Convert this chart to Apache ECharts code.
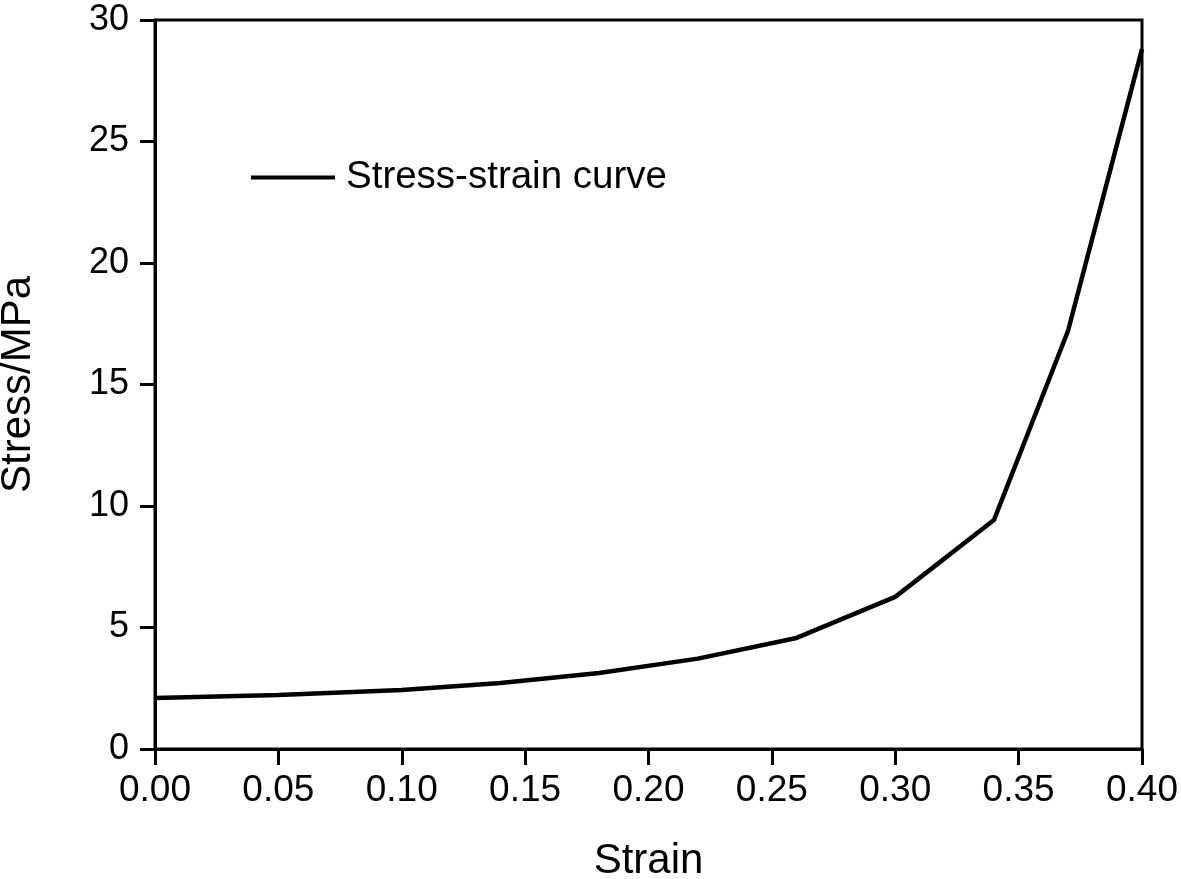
<!DOCTYPE html>
<html>
<head>
<meta charset="utf-8">
<script src="https://cdn.jsdelivr.net/npm/echarts@6/dist/echarts.min.js"></script>
<style>
html,body{margin:0;padding:0;background:#fff;}
#chart{width:1181px;height:879px;}
</style>
</head>
<body>
<div id="chart"></div>
<script>
const strain = [0, 0.05, 0.10, 0.14, 0.18, 0.22, 0.26, 0.30, 0.34, 0.37, 0.40];
const stress = [2.1, 2.22, 2.43, 2.72, 3.13, 3.72, 4.57, 6.26, 9.42, 17.2, 28.8];
const seriesName = 'Stress-strain curve';
const xAxisName = 'Strain';
const yAxisName = 'Stress/MPa';

const FONT = '"Liberation Sans", Arial, sans-serif';
const chart = echarts.init(document.getElementById('chart'), null, {renderer: 'canvas'});
chart.setOption({
  backgroundColor: '#fff',
  animation: false,
  textStyle: {fontFamily: FONT, color: '#000'},
  grid: {left: 155, right: 39, top: 20, bottom: 130, show: true, borderColor: '#000', borderWidth: 3, containLabel: false, outerBoundsMode: 'none'},
  legend: {
    left: 246, top: 153,
    icon: 'rect', itemWidth: 84, itemHeight: 4,
    textStyle: {fontFamily: FONT, fontSize: 38.5, color: '#000', padding: [0, 0, 0, 6]},
    data: [seriesName]
  },
  xAxis: {
    type: 'value', min: 0, max: 0.4, interval: 0.05,
    name: xAxisName, nameLocation: 'middle', nameGap: 91,
    nameTextStyle: {fontFamily: FONT, fontSize: 42, color: '#000'},
    axisLine: {show: true, lineStyle: {color: '#000', width: 3}},
    axisTick: {show: true, inside: false, length: 16, lineStyle: {color: '#000', width: 3}},
    axisLabel: {fontFamily: FONT, fontSize: 37, color: '#000', margin: 23, formatter: v => v.toFixed(2)},
    splitLine: {show: false}
  },
  yAxis: {
    type: 'value', min: 0, max: 30, interval: 5,
    name: yAxisName, nameLocation: 'middle', nameGap: 116,
    nameTextStyle: {fontFamily: FONT, fontSize: 42, color: '#000'},
    axisLine: {show: true, lineStyle: {color: '#000', width: 3}},
    axisTick: {show: true, inside: false, length: 15, lineStyle: {color: '#000', width: 3}},
    axisLabel: {fontFamily: FONT, fontSize: 36, color: '#000', margin: 26},
    splitLine: {show: false}
  },
  series: [{
    name: seriesName,
    type: 'line',
    data: strain.map((x, i) => [x, stress[i]]),
    showSymbol: false, symbol: 'none',
    lineStyle: {color: '#000', width: 4.5},
    itemStyle: {color: '#000'}
  }]
});
</script>
</body>
</html>
